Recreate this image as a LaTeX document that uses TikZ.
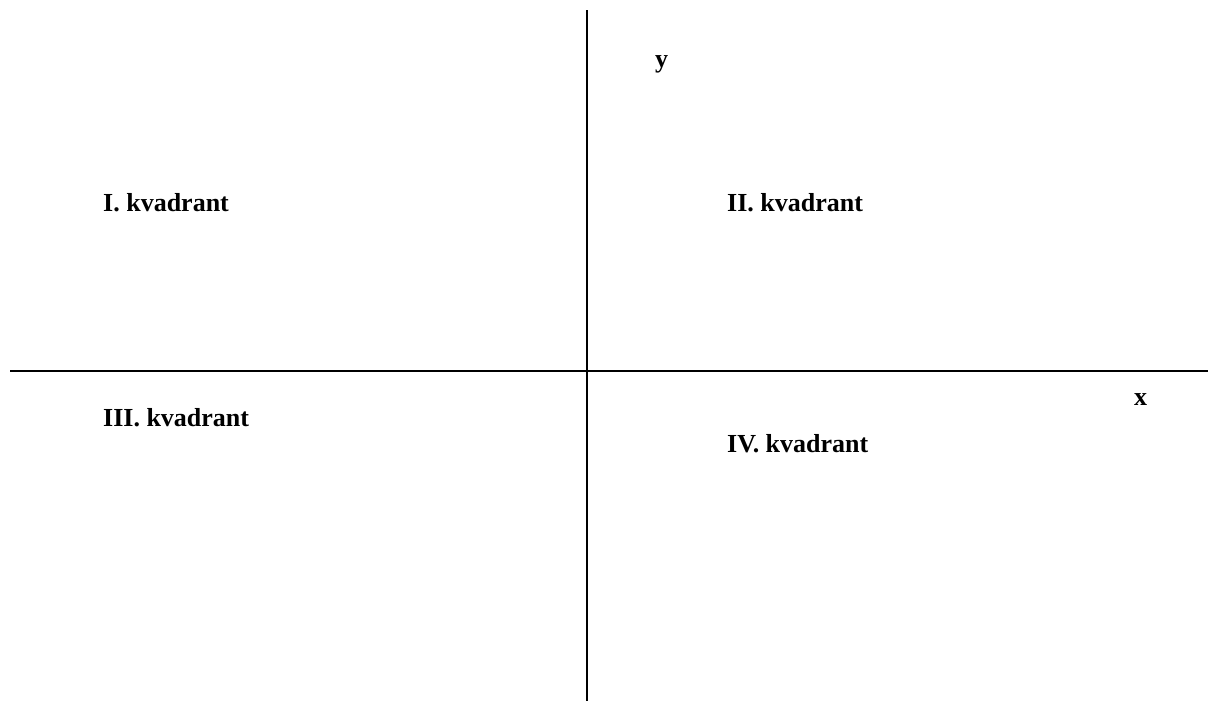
\documentclass[tikz,border=0pt]{standalone}
\usepackage{fontspec}
\setmainfont{Liberation Serif}
\usetikzlibrary{positioning}

\begin{document}
\begin{tikzpicture}[
  x=1pt,y=1pt,
  font=\fontsize{26}{30}\selectfont\bfseries,
  axis/.style={line width=2pt},
  lbl/.style={anchor=base west,inner sep=0pt}
]
\useasboundingbox (0,0) rectangle (1208,701);
\coordinate (ytop) at (587,691);
\coordinate (ybot) at (587,0);
\coordinate (xleft) at (10,330);
\coordinate (xright) at (1208,330);
\draw[axis] (ybot) -- (ytop);
\draw[axis] (xleft) -- (xright);
\node[lbl] (ylab) at (655,633) {y};
\node[lbl] (xlab) at (1134,295) {x};
\node[lbl] (kvI) at (103,489) {I. kvadrant};
\node[lbl] (kvII) at (727,489) {II. kvadrant};
\node[lbl] (kvIII) at (103,274) {III. kvadrant};
\node[lbl] (kvIV) at (727,248) {IV. kvadrant};
\end{tikzpicture}
\end{document}
